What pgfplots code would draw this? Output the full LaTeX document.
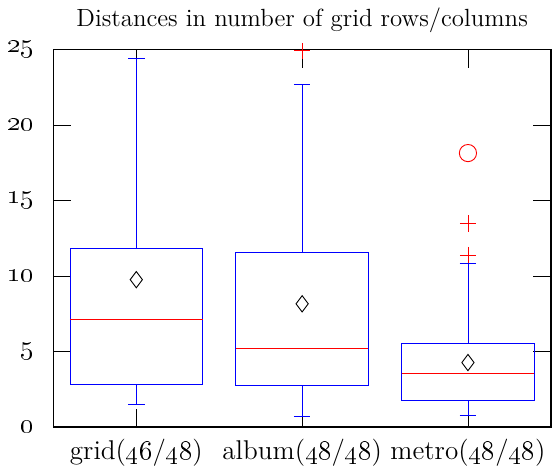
\documentclass[border=0pt]{standalone}
\usepackage{pgfplots}
\pgfplotsset{compat=1.18}
\usepgfplotslibrary{statistics}

\begin{document}
\begin{tikzpicture}
  \begin{axis}[
    scale only axis,
    width=220pt, height=167pt,
    xmin=0.5, xmax=3.5,
    ymin=0, ymax=25,
    clip=false,
    title={Distances in number of grid rows/columns},
    title style={font=\fontsize{11}{13}\selectfont, yshift=-2pt},
    xtick={1,2,3},
    xticklabels={grid(\oldstylenums{46}/\oldstylenums{48}),
                 album(\oldstylenums{48}/\oldstylenums{48}),
                 metro(\oldstylenums{48}/\oldstylenums{48})},
    ytick={0,5,10,15,20,25},
    yticklabels={\oldstylenums{0},\oldstylenums{5},\oldstylenums{10},
                 \oldstylenums{15},\oldstylenums{20},\oldstylenums{25}},
    ticklabel style={font=\large},
    yticklabel style={xshift=-5pt},
    xticklabel style={yshift=-2pt},
    major tick length=8pt,
    tick style={black},
    axis line style={line width=0.6pt},
    boxplot/draw direction=y,
    boxplot/box extend=0.8,
    boxplot/whisker extend=0.1,
    boxplot/every box/.style={blue},
    boxplot/every whisker/.style={blue},
    boxplot/every median/.style={red},
  ]
    % grid
    \addplot[blue, mark=+, mark size=3.6pt, mark options={red},
      boxplot prepared={draw position=1,
        lower whisker=1.50, lower quartile=2.82, median=7.10,
        upper quartile=11.85, upper whisker=24.38}]
      coordinates {};
    % album
    \addplot[blue, mark=+, mark size=3.6pt, mark options={red},
      boxplot prepared={draw position=2,
        lower whisker=0.73, lower quartile=2.75, median=5.21,
        upper quartile=11.54, upper whisker=22.65}]
      table[row sep=\\, y index=0] {24.9\\};
    % metro
    \addplot[blue, mark=+, mark size=3.6pt, mark options={red},
      boxplot prepared={draw position=3,
        lower whisker=0.75, lower quartile=1.78, median=3.54,
        upper quartile=5.54, upper whisker=10.86}]
      table[row sep=\\, y index=0] {13.48\\ 11.39\\};
    % far outlier
    \addplot[only marks, red, mark=o, mark size=3.8pt]
      coordinates {(3,18.14)};
    % means
    \addplot[only marks, black, mark=diamond, mark size=3.6pt]
      coordinates {(1,9.76) (2,8.16) (3,4.27)};
  \end{axis}
\end{tikzpicture}
\end{document}
